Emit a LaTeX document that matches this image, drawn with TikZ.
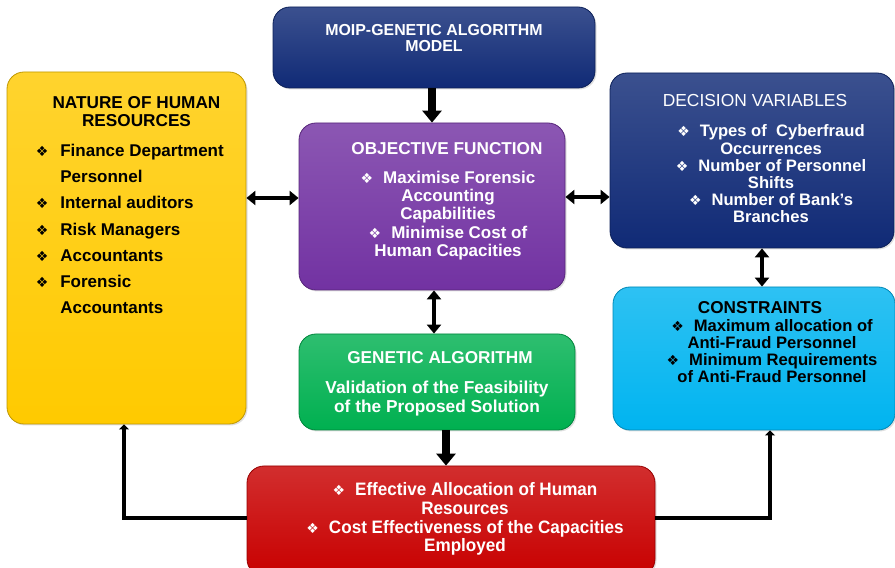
\documentclass[tikz,border=0pt]{standalone}
\usepackage{fontspec}
\setmainfont{Liberation Sans}
\newfontfamily\narrowfont[FakeStretch=0.95]{Liberation Sans}
\newfontfamily\symfont{DejaVu Sans}
\usetikzlibrary{calc,arrows.meta,shadows}

\definecolor{navyblue}{RGB}{16,42,118}
\definecolor{objpurple}{RGB}{114,50,162}
\definecolor{gagreen}{RGB}{0,176,80}
\definecolor{hryellow}{RGB}{255,202,0}
\definecolor{conscyan}{RGB}{0,180,240}
\definecolor{resred}{RGB}{200,0,0}

\newcommand{\bul}{{\symfont\fontsize{14}{14}\selectfont\char"2756}\hspace{10pt}}
\newcommand{\lbul}{{\symfont\fontsize{14}{14}\selectfont\char"2756}\hspace{12pt}}

\begin{document}
\begin{tikzpicture}[x=1pt, y=1pt]

\tikzset{
  box/.style={rounded corners=17pt, draw=#1!75!black, line width=0.8pt,
    top color=#1!82!white, bottom color=#1,
    drop shadow={opacity=0.25, shadow xshift=1.5pt, shadow yshift=-1.5pt}},
  txt/.style={text=white, align=center, inner sep=0pt},
  dtxt/.style={text=black, align=center, inner sep=0pt},
  big/.style={font=\fontsize{17.2}{18}\selectfont\bfseries},
  items/.style={font=\fontsize{17}{18.3}\selectfont\bfseries},
  dblarrow/.style={line width=4.5pt, {Triangle[length=9pt,width=14pt]}-{Triangle[length=9pt,width=14pt]}},
  blockarrow/.style={line width=8.5pt, -{Triangle[length=12pt,width=19pt]}},
  feedback/.style={line width=4pt, line join=miter, -{Triangle[length=5pt,width=10pt]}},
}

\useasboundingbox (0,0) rectangle (895,568);
\clip (0,0) rectangle (895,568);

% boxes
\node[box=navyblue, minimum width=322pt, minimum height=81pt, name=moip] at (434,520.5) {};
\node[box=hryellow, minimum width=239pt, minimum height=352pt, name=nature] at (126.5,320) {};
\node[box=objpurple, minimum width=266pt, minimum height=167pt, name=obj] at (432,361.5) {};
\node[box=gagreen, minimum width=276pt, minimum height=96pt, name=ga] at (437,186) {};
\node[box=navyblue, minimum width=284pt, minimum height=175pt, name=dec] at (752,407.5) {};
\node[box=conscyan, minimum width=282pt, minimum height=143pt, name=cons] at (754,209.5) {};
\node[box=resred, minimum width=408pt, minimum height=110pt, name=result] at (451,47) {};

% texts
\node[txt, anchor=north, font=\fontsize{15.9}{16.5}\selectfont\bfseries, name=moipText]
  at ($(moip.north)+(0,-17.5)$) {MOIP-GENETIC ALGORITHM\\MODEL};

\node[dtxt, big, anchor=north, name=natureTitle] at ($(nature.north)+(10,-25)$) {NATURE OF HUMAN\\RESOURCES};
\node[dtxt, align=left, anchor=north west, font=\fontsize{17}{26.3}\selectfont\bfseries, name=natureList]
  at ($(nature.north west)+(29,-72)$)
  {\lbul Finance Department\\\hphantom{\lbul}Personnel\\\lbul Internal auditors\\\lbul Risk Managers\\
   \lbul Accountants\\\lbul Forensic\\\hphantom{\lbul}Accountants};

\node[txt, big, anchor=north, name=objTitle] at ($(obj.north)+(15,-20)$) {OBJECTIVE FUNCTION};
\node[txt, items, anchor=north, name=objList] at ($(obj.north)+(16,-48)$)
  {\bul Maximise Forensic\\Accounting\\Capabilities\\\bul Minimise Cost of\\Human Capacities};

\node[txt, big, anchor=north, name=gaTitle] at ($(ga.north)+(3,-18)$) {GENETIC ALGORITHM};
\node[txt, anchor=north, font=\fontsize{17.3}{19}\selectfont\bfseries, name=gaText] at ($(ga.north)+(0,-47)$)
  {Validation of the Feasibility\\of the Proposed Solution};

\node[txt, anchor=north, font=\fontsize{17.4}{18}\selectfont, name=decTitle] at ($(dec.north)+(3,-22)$) {DECISION VARIABLES};
\node[txt, anchor=north, font=\fontsize{16.6}{17.2}\selectfont\bfseries, name=decList] at ($(dec.north)+(19,-52)$)
  {\bul Types of\ \ Cyberfraud\\Occurrences\\\bul Number of Personnel\\Shifts\\\bul Number of Bank's\\Branches};

\node[dtxt, big, anchor=north, name=consTitle] at ($(cons.north)+(6,-15)$) {CONSTRAINTS};
\node[dtxt, anchor=north, font=\fontsize{16.6}{17}\selectfont\bfseries, name=consList] at ($(cons.north)+(18,-33)$)
  {\bul Maximum allocation of\\Anti-Fraud Personnel\\\bul Minimum Requirements\\of Anti-Fraud Personnel};

\node[txt, anchor=north, font=\narrowfont\fontsize{18}{18.7}\selectfont\bfseries, name=resultList] at ($(result.north)+(14,-17)$)
  {\bul Effective Allocation of Human\\Resources\\\bul Cost Effectiveness of the Capacities\\Employed};

% arrows
\draw[blockarrow] (moip.south -| obj.north) -- (obj.north);
\draw[dblarrow] ($(nature.east |- obj.west)+(0,8.5)$) -- ($(obj.west)+(0,8.5)$);
\draw[dblarrow] ($(obj.east)+(0,9.5)$) -- ($(dec.west |- obj.east)+(0,9.5)$);
\draw[dblarrow] ($(obj.south)+(2,0)$) -- ($(ga.north -| obj.south)+(2,0)$);
\draw[dblarrow] ($(dec.south)+(10,0)$) -- ($(cons.north -| dec.south)+(10,0)$);
\draw[blockarrow] ($(ga.south)+(9,0)$) -- ($(result.north -| ga.south)+(9,0)$);

\coordinate (consIn) at ($(cons.south)+(16,0)$);
\draw[feedback] ($(result.west)+(0,3)$) -| ($(nature.south)+(-2.5,0)$);
\draw[feedback] ($(result.east)+(0,3)$) -| (consIn);

\end{tikzpicture}
\end{document}
